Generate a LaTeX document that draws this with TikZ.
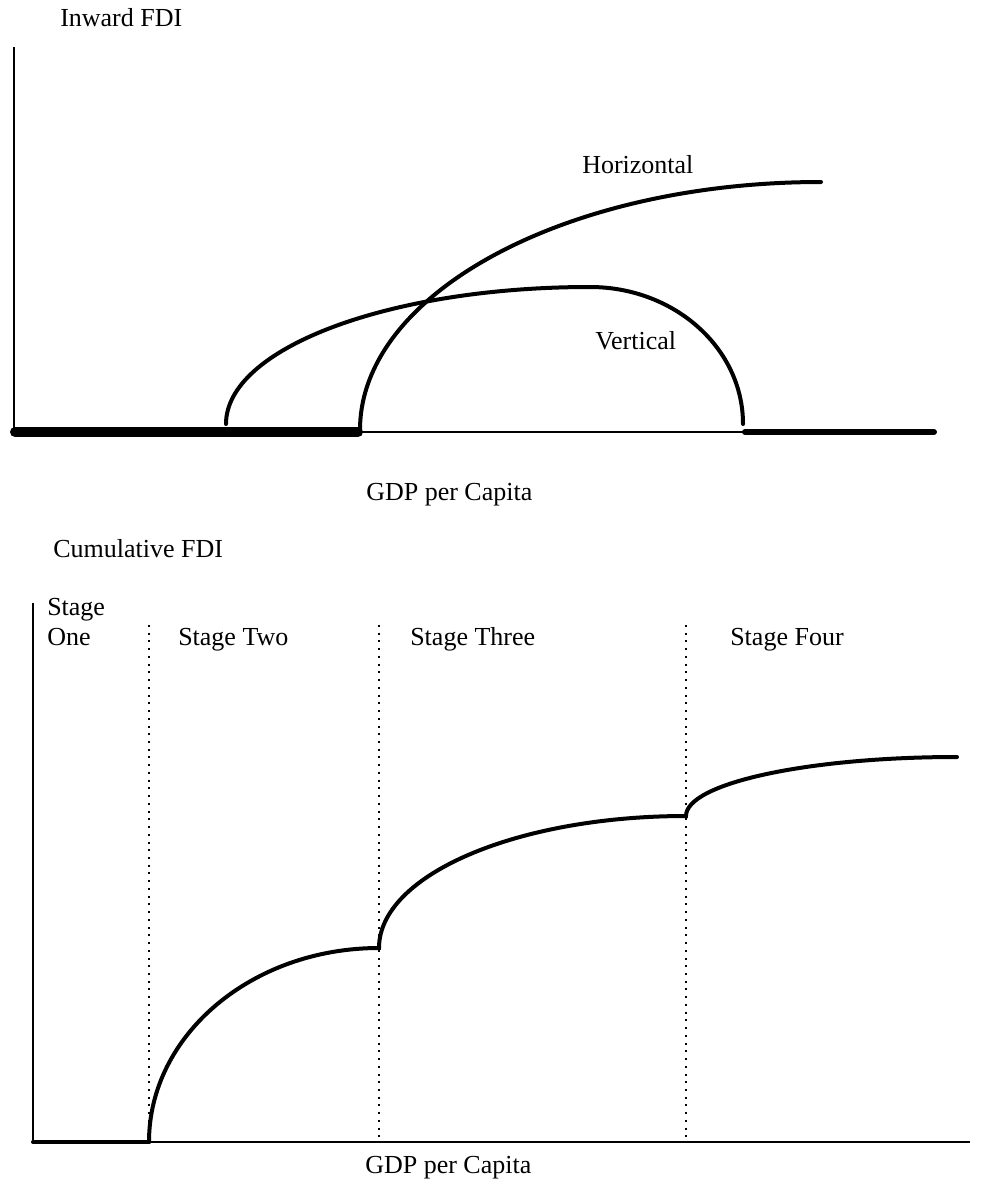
\documentclass[tikz,border=0pt]{standalone}
\usepackage{fontspec}
\setmainfont{Liberation Serif}
\begin{document}
\begin{tikzpicture}[x=0.75pt,y=-0.75pt,
  axis/.style={line width=1.5pt},
  curve/.style={line width=3pt, line cap=round},
  heavybase/.style={line width=7.5pt, line cap=round},
  midbase/.style={line width=4.5pt, line cap=round},
  stagediv/.style={line width=1.5pt, dash pattern=on 1.5pt off 4.3pt},
  lbl/.style={font=\fontsize{19.5}{23}\selectfont, inner sep=0pt, anchor=base west}]
\useasboundingbox (0,0) rectangle (987,1184);

% ---------- top panel ----------
\coordinate (ytopA) at (14,47);
\coordinate (oA) at (14,432);
\coordinate (xendA) at (878,432);
\draw[axis] (ytopA) -- (oA) -- (xendA);

\coordinate (bl1) at (15,432);
\coordinate (bl2) at (358,432);
\draw[heavybase] (bl1) -- (bl2);
\coordinate (br1) at (745,432);
\coordinate (br2) at (934,432);
\draw[midbase] (br1) -- (br2);

% vertical curve
\coordinate (v0) at (226,424);
\coordinate (v1) at (590,287);
\coordinate (v2) at (743,424);
\draw[curve] (v0) .. controls (226,348.3) and (389,287) .. (v1)
                  .. controls (674.5,287) and (743,348.3) .. (v2);

% horizontal curve
\coordinate (h0) at (360,430);
\coordinate (h1) at (821,182);
\draw[curve] (h0) .. controls (360,293) and (566.4,182) .. (h1);

\node[lbl] (inward) at (60,27) {Inward FDI};
\node[lbl] (horiz) at (582,173) {Horizontal};
\node[lbl] (vert) at (595,349) {Vertical};
\node[lbl] (gdpA) at (366,500) {GDP per Capita};

% ---------- bottom panel ----------
\coordinate (ytopB) at (33,603);
\coordinate (oB) at (33,1142);
\coordinate (xendB) at (970,1142);
\draw[axis] (ytopB) -- (oB) -- (xendB);

\coordinate (s1) at (149,1142);
\draw[curve] (oB) -- (s1);

\coordinate (d1t) at (149,625);
\coordinate (d2t) at (379,625);
\coordinate (d3t) at (686,625);
\coordinate (d2b) at (379,1142);
\coordinate (d3b) at (686,1142);
\draw[stagediv] (d1t) -- (s1);
\draw[stagediv] (d2t) -- (d2b);
\draw[stagediv] (d3t) -- (d3b);

\coordinate (c1) at (379,948);
\coordinate (c2) at (686,816);
\coordinate (c3) at (957,757);
\draw[curve] (s1) .. controls (149,1034.9) and (252,948) .. (c1)
                  .. controls (379,875.1) and (516.4,816) .. (c2)
                  .. controls (686,783.4) and (807.3,757) .. (c3);

\node[lbl] (cumul) at (53,557) {Cumulative FDI};
\node[lbl] (stage1a) at (47,615) {Stage};
\node[lbl] (stage1b) at (47,645) {One};
\node[lbl] (stage2) at (178,645) {Stage Two};
\node[lbl] (stage3) at (410,645) {Stage Three};
\node[lbl] (stage4) at (730,645) {Stage Four};
\node[lbl] (gdpB) at (365,1173) {GDP per Capita};
\end{tikzpicture}
\end{document}
